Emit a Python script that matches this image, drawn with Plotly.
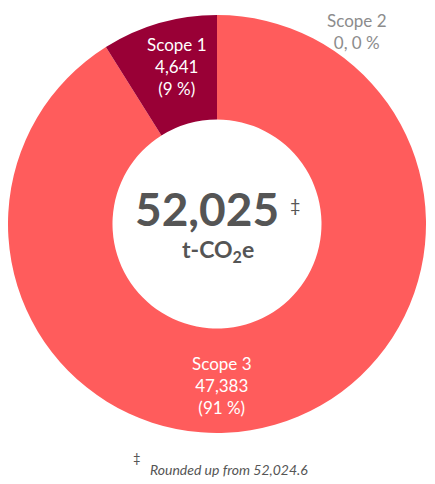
import math
import plotly.graph_objects as go

# emissions by scope (t-CO2e)
scopes = ["Scope 3", "Scope 2", "Scope 1"]
emissions = [47383, 0, 4641]
total_exact = 52024.6
colors = ["#ff5c5c", "#b0b0b0", "#990036"]

# page is 435x484, browser body margin is 8px
OFF = 8
W, H = 435 - OFF, 484 - OFF
FONT = "Lato"


def px(x, y):
    # page pixel -> paper coords
    return (x - OFF) / W, 1 - (y - OFF) / H


def note(xy, text, size, color="#555555", xanchor="center"):
    x, y = px(*xy)
    fig.add_annotation(x=x, y=y, xref="paper", yref="paper", text=text,
                       showarrow=False, xanchor=xanchor, yanchor="middle",
                       align="center", font=dict(family=FONT, size=size, color=color))


x0, y0 = px(4, 435)
x1, y1 = px(426, 13)
fig = go.Figure(go.Pie(
    labels=scopes, values=emissions, sort=False,
    direction="clockwise", rotation=0, hole=0.5,
    marker=dict(colors=colors, line=dict(width=0)),
    textinfo="none", hoverinfo="label+value+percent", showlegend=False,
    domain=dict(x=[max(x0, 0), x1], y=[y0, y1]),
))

total = sum(emissions)
pct = [round(v / total * 100) for v in emissions]

# slice labels
label_pos = {"Scope 1": (177, 66), "Scope 2": (357, 31), "Scope 3": (222, 385)}
for name, val, p in zip(scopes, emissions, pct):
    if val == 0:
        note(label_pos[name], f"{name}<br>{val:,}, {p} %", 17, "#8c8c8c")
    else:
        note(label_pos[name], f"{name}<br>{val:,}<br>({p} %)", 17, "white")

# centre total
note((207, 208), f"<b>{math.ceil(total_exact):,}</b>", 46)
note((295, 205), "‡", 18)
note((218, 251), "<b>t-CO<sub>2</sub>e</b>", 23)

# footnote
note((137, 458), "‡", 13)
note((148, 469), f"<i>Rounded up from {total_exact:,.1f}</i>", 14, xanchor="left")

fig.update_layout(width=W, height=H, margin=dict(l=0, r=0, t=0, b=0),
                  paper_bgcolor="white", plot_bgcolor="white")

fig.write_html("out.html")
